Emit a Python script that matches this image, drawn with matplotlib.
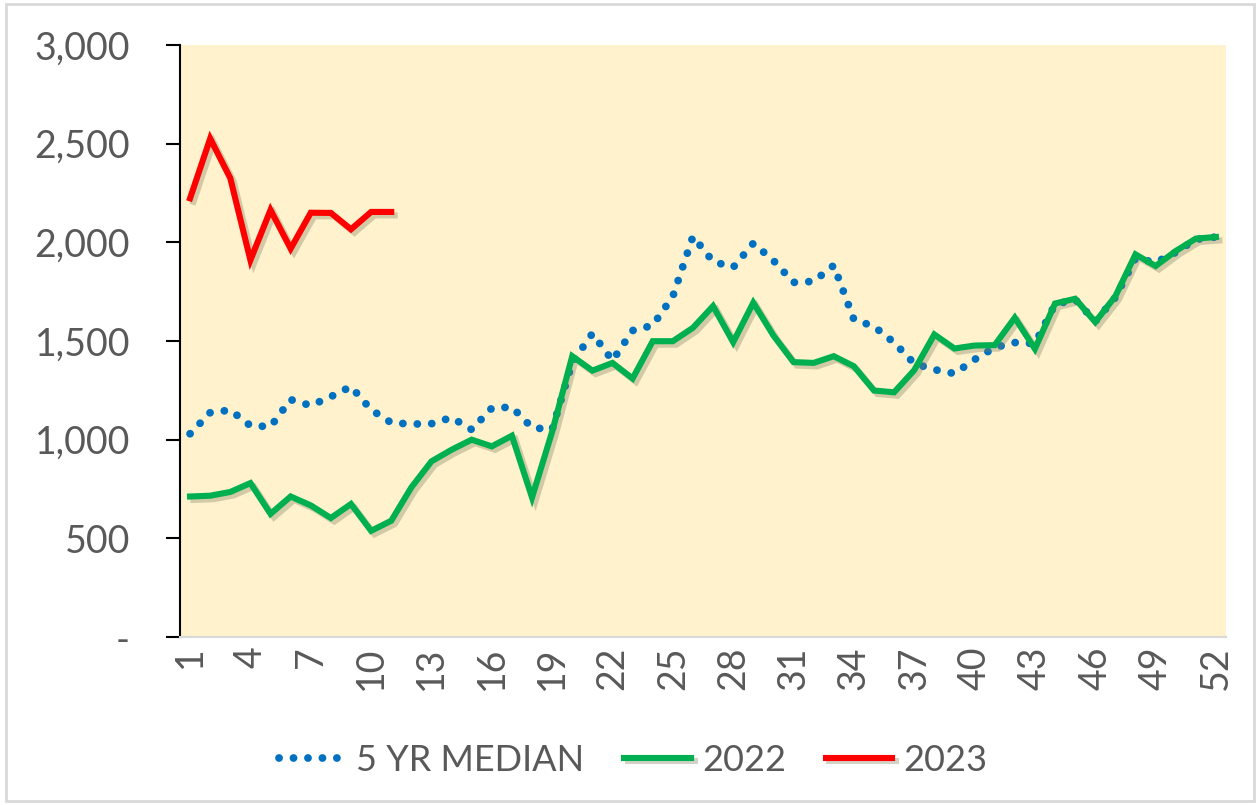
import matplotlib
matplotlib.use("Agg")
import matplotlib.pyplot as plt
import matplotlib.patheffects as pe
from matplotlib.patches import Rectangle
from matplotlib.ticker import FuncFormatter

# -------------------------------
# DATA (weekly values)
# -------------------------------
weeks = list(range(1, 53))

median_5yr = [1030, 1137, 1150, 1071, 1066, 1203, 1173, 1218, 1269, 1152,
              1086, 1079, 1081, 1112, 1051, 1160, 1165, 1061, 1051, 1391,
              1538, 1401, 1553, 1579, 1726, 2030, 1903, 1873, 1995, 1908,
              1797, 1802, 1883, 1609, 1574, 1492, 1386, 1355, 1335, 1406,
              1467, 1492, 1487, 1685, 1711, 1599, 1721, 1919, 1898, 1949,
              2015, 2027]

y2022 = [712, 716, 735, 780, 624, 712, 667, 603, 674, 538,
         589, 758, 890, 949, 1000, 966, 1020, 707, 1040, 1423,
         1350, 1389, 1310, 1499, 1499, 1567, 1677, 1494, 1694, 1528,
         1393, 1389, 1423, 1372, 1249, 1240, 1352, 1533, 1462, 1477,
         1479, 1618, 1460, 1690, 1714, 1596, 1727, 1939, 1880, 1956,
         2019, 2027]

y2023 = [2223, 2526, 2325, 1910, 2164, 1968, 2150, 2149, 2066, 2154, 2154]

tick_weeks = list(range(1, 53, 3))

# -------------------------------
# STYLE
# -------------------------------
plt.rcParams["font.family"] = ["Lato", "DejaVu Sans"]
TEXT = "#595959"
shadow = [pe.SimpleLineShadow(offset=(2.5, -2.5), shadow_color="#7f7f5f", alpha=0.35),
          pe.Normal()]

fig = plt.figure(figsize=(12.57, 8.05), dpi=100)
ax = fig.add_axes([180 / 1257, 1 - 637 / 805, (1226 - 180) / 1257, (637 - 45) / 805])
ax.set_facecolor("#FFF2CC")

# chart border
fig.patches.append(Rectangle((6 / 1257, 4 / 805), 1248 / 1257, 797 / 805,
                             transform=fig.transFigure, fill=False,
                             edgecolor="#D9D9D9", linewidth=2))

ax.plot(weeks, median_5yr, color="#0070C0", linewidth=5.6,
        linestyle=(0, (0.01, 1.85)), dash_capstyle="round",
        label="5 YR MEDIAN", zorder=2)
ax.plot(weeks, y2022, color="#00B050", linewidth=4.4, solid_joinstyle="miter",
        path_effects=shadow, label="2022", zorder=3)
ax.plot(weeks[:len(y2023)], y2023, color="#FF0000", linewidth=4.4,
        solid_joinstyle="miter", path_effects=shadow, label="2023", zorder=4)

# -------------------------------
# AXES
# -------------------------------
ax.set_xlim(0.5, 52.5)
ax.set_ylim(0, 3000)
ax.set_yticks(range(0, 3001, 500))
ax.yaxis.set_major_formatter(FuncFormatter(lambda v, p: "-" if v == 0 else f"{int(v):,}"))
ax.set_xticks(tick_weeks)
ax.set_xticklabels([str(w) for w in tick_weeks], rotation=90, va="top", ha="center")

for side in ["top", "right"]:
    ax.spines[side].set_visible(False)
ax.spines["left"].set_color("black")
ax.spines["left"].set_linewidth(1.5)
ax.spines["bottom"].set_color("#D9D9D9")
ax.spines["bottom"].set_linewidth(1.5)

ax.tick_params(axis="y", length=10, width=1.5, color="black", labelsize=27,
               labelcolor=TEXT, pad=26)
ax.tick_params(axis="x", length=0, labelsize=27, labelcolor=TEXT, pad=7)

leg = ax.legend(loc="center", bbox_to_anchor=(633 / 1257, 1 - 760 / 805),
                bbox_transform=fig.transFigure, ncol=3, frameon=False,
                fontsize=26, handlelength=1.85, handletextpad=0.3,
                columnspacing=1.1, labelcolor=TEXT)

fig.savefig("out.png", dpi=100)
